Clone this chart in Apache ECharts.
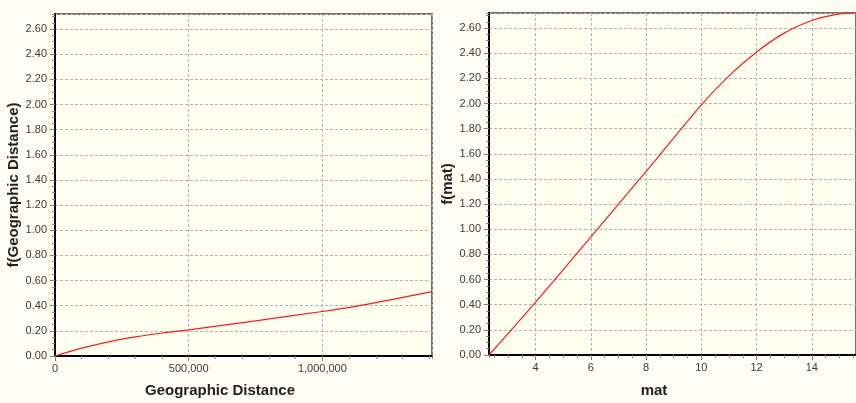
<!DOCTYPE html>
<html>
<head>
<meta charset="utf-8">
<script src="https://cdn.jsdelivr.net/npm/echarts@6/dist/echarts.min.js"></script>
<style>
  html, body { margin: 0; padding: 0; background: #fdfdf3; }
  #chart { width: 856px; height: 403px; }
</style>
</head>
<body>
<div id="chart"></div>
<script>
// Partial response curve: geographic distance
const geoDistance = [0, 100000, 200000, 300000, 400000, 500000, 750000, 1000000, 1130000, 1250000, 1410000];
const geoResponse = [0, 0.062, 0.113, 0.152, 0.183, 0.208, 0.280, 0.354, 0.397, 0.445, 0.512];

// Partial response curve: mat
const matValues   = [2.31, 3, 4, 6, 8, 10, 11, 12, 13, 14, 14.8, 15.6];
const matResponse = [0, 0.17, 0.42, 0.94, 1.46, 1.99, 2.22, 2.41, 2.56, 2.66, 2.705, 2.72];

// Axis ranges
const geoRange = [0, 1410000];
const matRange = [2.31, 15.6];
const responseMax = 2.72;

const FONT = 'Liberation Sans, Arial, sans-serif';
const labelStyle = { color: '#3a3a3a', fontSize: 11, fontFamily: FONT };
const nameStyle = (pad) => ({
  color: '#222', fontSize: 15, fontWeight: 'bold', fontFamily: FONT, padding: pad
});
const gridLine = { show: true, lineStyle: { color: '#b4b4b4', type: [3, 2], width: 1 } };
const mainLine = { show: true, onZero: false, lineStyle: { color: '#000', width: 2 } };
const mainTick = { show: true, length: 5, lineStyle: { color: '#777' } };
const minorAxis = (extra) => Object.assign({
  type: 'value',
  axisLine: { show: false },
  axisLabel: { show: false },
  splitLine: { show: false },
  axisTick: { show: true, length: 3, lineStyle: { color: '#888' } }
}, extra);

const commas = (v) => Math.round(v).toLocaleString('en-US');

const chart = echarts.init(document.getElementById('chart'), null, { renderer: 'canvas' });

chart.setOption({
  backgroundColor: '#fdfdf3',
  animation: false,
  grid: [
    { left: 55, top: 14, width: 377, height: 344, show: true,
      backgroundColor: '#fffff0', borderColor: '#707070', borderWidth: 2 },
    { left: 489, top: 13, width: 369, height: 342, show: true,
      backgroundColor: '#fffff0', borderColor: '#707070', borderWidth: 2 }
  ],
  xAxis: [
    { type: 'value', gridIndex: 0, position: 'bottom',
      min: geoRange[0], max: geoRange[1], interval: 500000,
      name: 'Geographic Distance', nameLocation: 'middle', nameGap: 27,
      nameTextStyle: nameStyle([0, 47, 0, 0]),
      axisLine: mainLine, axisTick: mainTick,
      axisLabel: Object.assign({ margin: 7, showMaxLabel: false, formatter: commas }, labelStyle),
      splitLine: gridLine },
    { type: 'value', gridIndex: 1, position: 'bottom',
      min: matRange[0], max: matRange[1], splitNumber: 6,
      name: 'mat', nameLocation: 'middle', nameGap: 28,
      nameTextStyle: nameStyle([0, 37, 0, 0]),
      axisLine: mainLine, axisTick: mainTick,
      axisLabel: Object.assign({ margin: 7, showMinLabel: false, showMaxLabel: false }, labelStyle),
      splitLine: gridLine },
    minorAxis({ gridIndex: 0, position: 'bottom', min: geoRange[0], max: geoRange[1], interval: 100000 }),
    minorAxis({ gridIndex: 1, position: 'bottom', min: matRange[0], max: matRange[1], splitNumber: 27 })
  ],
  yAxis: [
    { type: 'value', gridIndex: 0, position: 'left',
      min: 0, max: responseMax, interval: 0.2,
      name: 'f(Geographic Distance)', nameLocation: 'middle', nameGap: 30,
      nameTextStyle: nameStyle(0),
      axisLine: mainLine, axisTick: mainTick,
      axisLabel: Object.assign({ margin: 8, showMaxLabel: false, formatter: (v) => v.toFixed(2) }, labelStyle),
      splitLine: gridLine },
    { type: 'value', gridIndex: 1, position: 'left',
      min: 0, max: responseMax, interval: 0.2,
      name: 'f(mat)', nameLocation: 'middle', nameGap: 28,
      nameTextStyle: nameStyle(0),
      axisLine: mainLine, axisTick: mainTick,
      axisLabel: Object.assign({ margin: 8, showMaxLabel: false, formatter: (v) => v.toFixed(2) }, labelStyle),
      splitLine: gridLine },
    minorAxis({ gridIndex: 0, position: 'left', min: 0, max: responseMax, interval: 0.05 }),
    minorAxis({ gridIndex: 1, position: 'left', min: 0, max: responseMax, interval: 0.05 })
  ],
  series: [
    { type: 'line', xAxisIndex: 0, yAxisIndex: 0, smooth: 0.3, showSymbol: false,
      lineStyle: { color: '#ff1a1a', width: 1.2 },
      data: geoDistance.map((x, i) => [x, geoResponse[i]]) },
    { type: 'line', xAxisIndex: 1, yAxisIndex: 1, smooth: 0.3, showSymbol: false,
      lineStyle: { color: '#ff1a1a', width: 1.2 },
      data: matValues.map((x, i) => [x, matResponse[i]]) }
  ]
});
</script>
</body>
</html>
